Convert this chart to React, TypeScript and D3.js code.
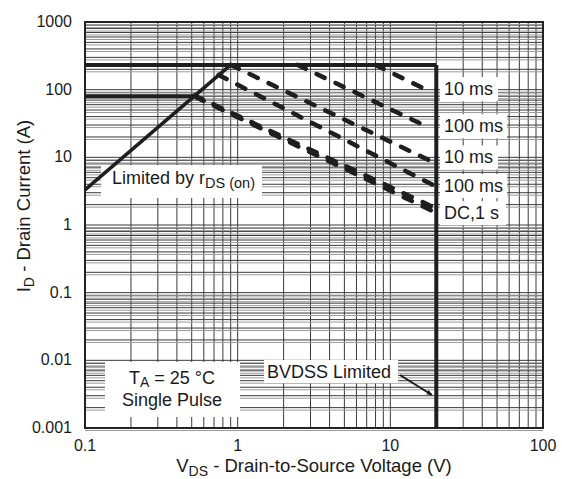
import React from "react";
import * as d3 from "d3";

// ---- data ----
const xTickValues = [0.1, 1, 10, 100];
const xTickLabels = ["0.1", "1", "10", "100"];
const yTickValues = [0.001, 0.01, 0.1, 1, 10, 100, 1000];
const yTickLabels = ["0.001", "0.01", "0.1", "1", "10", "100", "1000"];

// solid limit lines (V, A)
const rdsLimitV = [0.1, 0.9];
const rdsLimitI = [3.3, 232];
const currentLimitV = [0.1, 20];
const currentLimitI = [232, 232];
const packageLimitV = [0.1, 0.52];
const packageLimitI = [80, 80];
const bvdssLimitV = [20, 20];
const bvdssLimitI = [232, 0.001];

// dashed pulse lines (V, A)
const pulseA_V = [8.0, 18.5];
const pulseA_I = [232, 92];
const pulseB_V = [2.47, 17.6];
const pulseB_I = [232, 28];
const pulseC_V = [0.9, 19];
const pulseC_I = [232, 8.5];
const pulseD_V = [0.75, 19];
const pulseD_I = [165, 3.9];
const pulseE_V = [0.52, 19];
const pulseE_I = [82, 1.85];
const pulseF_V = [0.53, 19];
const pulseF_I = [78, 1.6];

const pulseLabels = ["10 ms", "100 ms", "10 ms", "100 ms", "DC,1 s"];
const pulseLabelI = [92, 26, 9.0, 3.4, 1.35];

const FONT = "'Liberation Sans', Arial, Helvetica, sans-serif";

export default function App() {
  const W = 562;
  const H = 479;
  const x = d3.scaleLog().domain([0.1, 100]).range([85, 543]);
  const y = d3.scaleLog().domain([0.001, 1000]).range([428, 22]);

  const line = d3
    .line<[number, number]>()
    .x((d) => x(d[0]))
    .y((d) => y(d[1]));
  const pts = (vs: number[], is: number[]) =>
    vs.map((v, i) => [v, is[i]] as [number, number]);

  const xGrid = x.ticks();
  const yGrid = y.ticks();

  const dashed = [
    pts(pulseA_V, pulseA_I),
    pts(pulseB_V, pulseB_I),
    pts(pulseC_V, pulseC_I),
    pts(pulseD_V, pulseD_I),
    pts(pulseE_V, pulseE_I),
    pts(pulseF_V, pulseF_I),
  ];

  const labelBoxW = [58, 67, 58, 67, 66];

  return (
    <svg
      width={W}
      height={H}
      style={{ position: "absolute", left: 0, top: 0, background: "#fff" }}
      fontFamily={FONT}
    >
      <defs>
        <marker
          id="arrow"
          viewBox="0 0 10 10"
          refX="9"
          refY="5"
          markerWidth="6"
          markerHeight="6"
          orient="auto"
          markerUnits="userSpaceOnUse"
        >
          <path d="M0,1 L10,5 L0,9 z" fill="#1a1a1a" />
        </marker>
      </defs>
      <rect x={0} y={0} width={W} height={H} fill="#fff" />

      {/* grid */}
      <g stroke="#3a3a3a" strokeWidth={1}>
        {xGrid.map((v, i) => (
          <line key={"xg" + i} x1={x(v)} x2={x(v)} y1={y(1000)} y2={y(0.001)} />
        ))}
        {yGrid.map((v, i) => (
          <line key={"yg" + i} x1={x(0.1)} x2={x(100)} y1={y(v)} y2={y(v)} />
        ))}
      </g>
      <g stroke="#9a9a9a" strokeWidth={1}>
        {yGrid.map((v, i) => (
          <line key={"yg2" + i} x1={x(0.1)} x2={x(100)} y1={y(v) + 2.5} y2={y(v) + 2.5} />
        ))}
      </g>

      {/* label boxes */}
      <g fill="#fff">
        <rect x={101} y={165} width={161} height={33} />
        {pulseLabels.map((t, i) => (
          <rect
            key={"lb" + i}
            x={440}
            y={y(pulseLabelI[i]) - 15}
            width={labelBoxW[i]}
            height={24}
          />
        ))}
        <rect x={105} y={362} width={135} height={55} />
        <rect x={264} y={360} width={134} height={23} />
      </g>

      {/* frame */}
      <rect
        x={x(0.1)}
        y={y(1000)}
        width={x(100) - x(0.1)}
        height={y(0.001) - y(1000)}
        fill="none"
        stroke="#222"
        strokeWidth={2}
      />

      {/* solid limits */}
      <g fill="none" stroke="#1e1e1e" strokeWidth={4}>
        <path d={line(pts(currentLimitV, currentLimitI)) || ""} />
        <path d={line(pts(packageLimitV, packageLimitI)) || ""} />
        <path d={line(pts(rdsLimitV, rdsLimitI)) || ""} strokeWidth={3.5} />
        <path d={line(pts(bvdssLimitV, bvdssLimitI)) || ""} />
      </g>

      {/* dashed pulse lines */}
      <g fill="none" stroke="#1e1e1e" strokeWidth={4.5} strokeDasharray="9 12" strokeLinecap="round">
        {dashed.map((p, i) => (
          <path key={"dl" + i} d={line(p) || ""} />
        ))}
      </g>

      {/* tick labels */}
      <g fontSize={16} fill="#1a1a1a">
        {yTickValues.map((v, i) => (
          <text key={"yt" + i} x={72} y={y(v) + 5} textAnchor="end">
            {yTickLabels[i]}
          </text>
        ))}
        {xTickValues.map((v, i) => (
          <text key={"xt" + i} x={x(v)} y={451} textAnchor="middle">
            {xTickLabels[i]}
          </text>
        ))}
      </g>

      {/* axis titles */}
      <text x={314} y={472} textAnchor="middle" fontSize={18.5} fill="#1a1a1a">
        V<tspan fontSize={14} dy={3.5}>DS</tspan>
        <tspan dy={-3.5}> - Drain-to-Source Voltage (V)</tspan>
      </text>
      <text
        transform="translate(30,206) rotate(-90)"
        textAnchor="middle"
        fontSize={18.5}
        fill="#1a1a1a"
      >
        I<tspan fontSize={14} dy={4}>D</tspan>
        <tspan dy={-4}> - Drain Current (A)</tspan>
      </text>

      {/* annotations */}
      <g fontSize={18} fill="#1a1a1a">
        <text x={112} y={184}>
          Limited by r<tspan fontSize={14.5} dy={4}>DS (on)</tspan>
        </text>
        {pulseLabels.map((t, i) => (
          <text key={"pl" + i} x={444} y={y(pulseLabelI[i]) + 3}>
            {t}
          </text>
        ))}
        <text x={172} y={384} textAnchor="middle">
          T<tspan fontSize={14} dy={3}>A</tspan>
          <tspan dy={-3}> = 25 °C</tspan>
        </text>
        <text x={172} y={406} textAnchor="middle">
          Single Pulse
        </text>
        <text x={267} y={378}>
          BVDSS Limited
        </text>
      </g>
      <line
        x1={400}
        y1={375}
        x2={432}
        y2={395}
        stroke="#1a1a1a"
        strokeWidth={2}
        markerEnd="url(#arrow)"
      />
    </svg>
  );
}
